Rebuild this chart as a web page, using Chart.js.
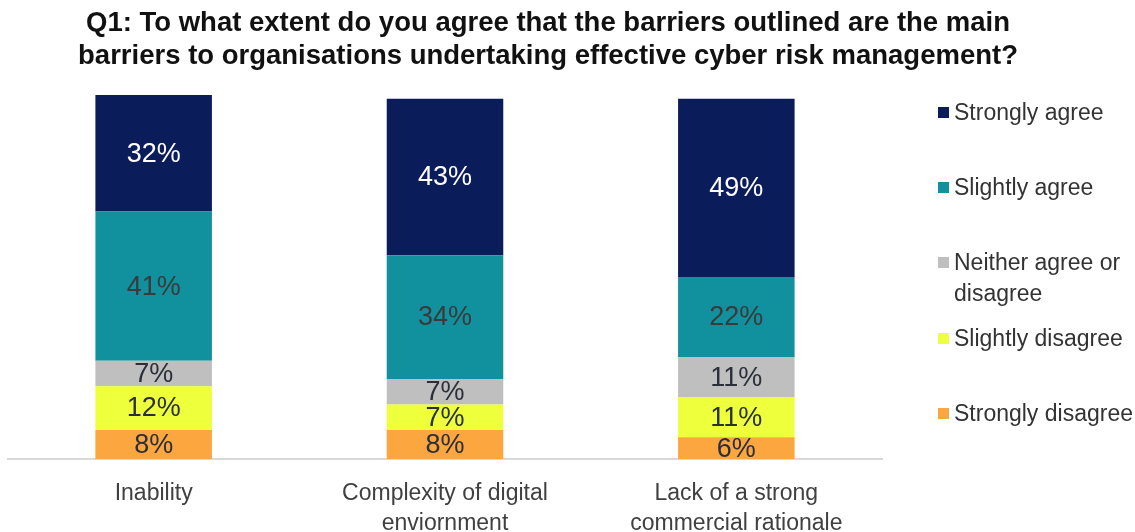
<!DOCTYPE html>
<html>
<head>
<meta charset="utf-8">
<script src="https://cdn.jsdelivr.net/npm/chart.js@4/dist/chart.umd.min.js"></script>
<style>
  html, body { margin: 0; padding: 0; background: #fff; overflow: hidden; }
  #wrap { position: relative; width: 1135px; height: 532px; font-family: "Liberation Sans", Arial, sans-serif; }
  #title { position: absolute; left: 0; top: 5px; width: 1096px; text-align: center; font-weight: bold; font-size: 27.5px; line-height: 33px; color: #111; }
  #chartBox { position: absolute; left: 0; top: 0; width: 1135px; height: 532px; }
  #legend { position: absolute; left: 938px; top: 0; width: 197px; color: #333; font-size: 23px; }
  .item { position: absolute; left: 0; white-space: nowrap; line-height: 31px; }
  .sw { position: absolute; left: 0; width: 11px; height: 11px; top: 10px; }
  .txt { position: absolute; left: 16px; top: 0; }
</style>
</head>
<body>
<div id="wrap">
  <div id="chartBox"><canvas id="c"></canvas></div>
  <div id="title">Q1: To what extent do you agree that the barriers outlined are the main<br>barriers to organisations undertaking effective cyber risk management?</div>
  <div id="legend"></div>
</div>
<script>
// Survey categories (multi-line axis labels)
const categories = [
  ["Inability"],
  ["Complexity of digital", "enviornment"],
  ["Lack of a strong", "commercial rationale"]
];

// Response shares (%) per category, bottom to top of each stack
const stronglyDisagree = [8, 8, 6];
const slightlyDisagree = [12, 7, 11];
const neitherAgree     = [7, 7, 11];
const slightlyAgree    = [41, 34, 22];
const stronglyAgree    = [32, 43, 49];

const seriesNames = ["Strongly disagree", "Slightly disagree", "Neither agree or disagree", "Slightly agree", "Strongly agree"];
const seriesColors = ["#fba63f", "#eeff3c", "#bfbfbf", "#11919e", "#0b1c5b"];
const labelColors = ["#2b2f3a", "#2b2f3a", "#2b2f3a", "#3a3a3a", "#ffffff"];
const seriesValues = [stronglyDisagree, slightlyDisagree, neitherAgree, slightlyAgree, stronglyAgree];

const datasets = seriesValues.map((vals, i) => ({
  label: seriesNames[i],
  data: vals,
  backgroundColor: seriesColors[i],
  borderWidth: 0,
  barPercentage: 0.4,
  categoryPercentage: 1.0
}));

// Percentage labels centred in each segment
const segmentLabels = {
  id: 'segmentLabels',
  afterDatasetsDraw(chart) {
    const ctx = chart.ctx;
    ctx.save();
    ctx.font = '27px "Liberation Sans", Arial, sans-serif';
    ctx.textAlign = 'center';
    ctx.textBaseline = 'middle';
    chart.data.datasets.forEach((ds, di) => {
      const meta = chart.getDatasetMeta(di);
      meta.data.forEach((bar, i) => {
        const v = ds.data[i];
        ctx.fillStyle = labelColors[di];
        ctx.fillText(v + '%', bar.x, (bar.y + bar.base) / 2 + 1);
      });
    });
    ctx.restore();
  }
};

new Chart(document.getElementById('c'), {
  type: 'bar',
  data: { labels: categories, datasets },
  options: {
    responsive: true,
    maintainAspectRatio: false,
    animation: false,
    layout: { padding: { left: 8, right: 253, top: 95, bottom: 0 } },
    plugins: { legend: { display: false }, title: { display: false }, tooltip: { enabled: false } },
    scales: {
      x: {
        stacked: true,
        grid: { display: false },
        border: { display: true, color: '#d9d9d9', width: 2 },
        ticks: {
          color: '#404040',
          padding: 12,
          font: { family: '"Liberation Sans", Arial, sans-serif', size: 23, lineHeight: 1.3 }
        },
        afterFit(scale) { scale.height = 73; }
      },
      y: {
        stacked: true,
        display: false,
        min: 0,
        max: 100
      }
    }
  },
  plugins: [segmentLabels]
});

// Legend, top to bottom
const legendRows = [
  { name: ["Strongly agree"], color: seriesColors[4], y: 112 },
  { name: ["Slightly agree"], color: seriesColors[3], y: 187 },
  { name: ["Neither agree or", "disagree"], color: seriesColors[2], y: 262 },
  { name: ["Slightly disagree"], color: seriesColors[1], y: 338 },
  { name: ["Strongly disagree"], color: seriesColors[0], y: 413 }
];
const legendEl = document.getElementById('legend');
legendRows.forEach(r => {
  const item = document.createElement('div');
  item.className = 'item';
  item.style.top = (r.y - 15.5) + 'px';
  const sw = document.createElement('div');
  sw.className = 'sw';
  sw.style.background = r.color;
  const txt = document.createElement('div');
  txt.className = 'txt';
  txt.innerHTML = r.name.join('<br>');
  item.appendChild(sw);
  item.appendChild(txt);
  legendEl.appendChild(item);
});
</script>
</body>
</html>
